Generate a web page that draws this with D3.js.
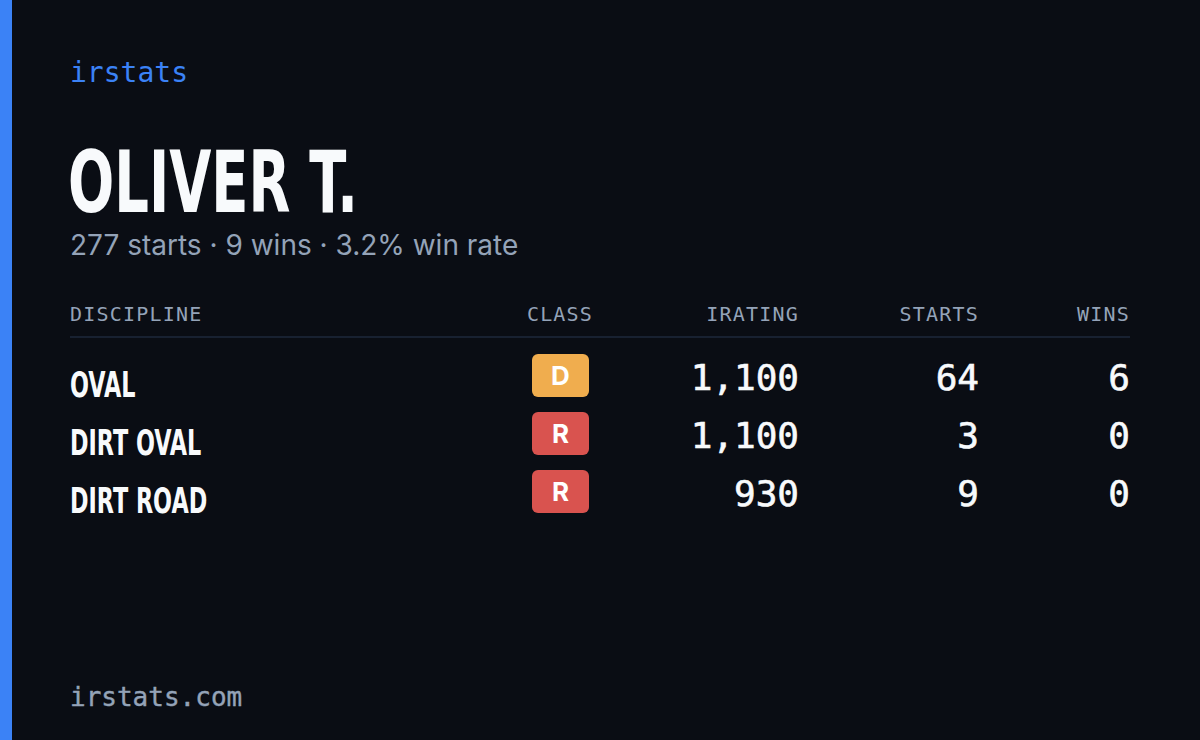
<!DOCTYPE html>
<html>
<head>
<meta charset="UTF-8">
<script src="https://d3js.org/d3.v7.min.js"></script>
<style>
  body { margin: 0; background: #0a0d14; }
</style>
</head>
<body>
<svg id="card" width="1200" height="740"></svg>
<script>
const disciplines = ["OVAL", "DIRT OVAL", "DIRT ROAD"];
const classes = ["D", "R", "R"];
const iratings = [1100, 1100, 930];
const starts = [64, 3, 9];
const wins = [6, 0, 0];
const totals = { starts: 277, wins: 9, winRate: 3.2 };
const headers = ["DISCIPLINE", "CLASS", "IRATING", "STARTS", "WINS"];
const classColors = { D: "#f0ad4e", R: "#d9534f" };

const svg = d3.select("#card");
const mono = "'DejaVu Sans Mono', monospace";
const cond = "'Liberation Sans Narrow', 'DejaVu Sans Condensed', sans-serif";
const sans = "Inter, 'Noto Sans', sans-serif";

svg.append("rect").attr("width", 1200).attr("height", 740).attr("fill", "#0a0d14");
svg.append("rect").attr("width", 12).attr("height", 740).attr("fill", "#3b82f6");

svg.append("text").attr("x", 70).attr("y", 82).text("irstats")
  .attr("font-family", mono).attr("font-size", 28).attr("fill", "#3b82f6");

svg.append("text").attr("x", 68).attr("y", 212).text("OLIVER T.")
  .attr("font-family", cond).attr("font-weight", "bold").attr("font-size", 86)
  .attr("fill", "#f8fafc").attr("textLength", 290).attr("lengthAdjust", "spacingAndGlyphs");

svg.append("text").attr("x", 70).attr("y", 255)
  .text(`${totals.starts} starts · ${totals.wins} wins · ${totals.winRate}% win rate`)
  .attr("font-family", sans).attr("font-size", 28).attr("fill", "#94a3b8");

const cols = [
  { x: 70, anchor: "start" },
  { x: 560, anchor: "middle" },
  { x: 799, anchor: "end" },
  { x: 979, anchor: "end" },
  { x: 1130, anchor: "end" }
];

svg.selectAll(".hdr").data(headers).join("text")
  .attr("class", "hdr")
  .attr("x", (d, i) => cols[i].x).attr("y", 321)
  .attr("text-anchor", (d, i) => cols[i].anchor)
  .attr("font-family", mono).attr("font-size", 20).attr("letter-spacing", 1.2)
  .attr("fill", "#94a3b8").text(d => d);

svg.append("line").attr("x1", 70).attr("x2", 1130).attr("y1", 337).attr("y2", 337)
  .attr("stroke", "#1e293b").attr("stroke-width", 1.5);

const y = d3.scaleBand().domain(d3.range(disciplines.length)).range([347, 521]);
const fmt = d3.format(",");

const rows = svg.selectAll(".row").data(disciplines).join("g")
  .attr("class", "row").attr("transform", (d, i) => `translate(0,${y(i)})`);

rows.append("text").attr("x", cols[0].x / 0.69).attr("y", 50).text(d => d)
  .attr("font-family", cond).attr("font-weight", "bold").attr("font-size", 36)
  .attr("fill", "#f8fafc")
  .attr("transform", "scale(0.69,1)");

rows.append("rect").attr("x", 532).attr("y", 7).attr("width", 57).attr("height", 43)
  .attr("rx", 6).attr("fill", (d, i) => classColors[classes[i]]);
rows.append("text").attr("x", 560.5).attr("y", 38).attr("text-anchor", "middle")
  .attr("font-family", sans).attr("font-weight", "bold").attr("font-size", 26)
  .attr("fill", "#fff").text((d, i) => classes[i]);

const numCols = [iratings.map(fmt), starts, wins];
numCols.forEach((vals, c) => {
  rows.append("text").attr("x", cols[c + 2].x).attr("y", 43)
    .attr("text-anchor", "end").attr("font-family", mono).attr("font-size", 36)
    .attr("fill", "#f8fafc").attr("stroke", "#f8fafc").attr("stroke-width", 0.6)
    .text((d, i) => vals[i]);
});

svg.append("text").attr("x", 70).attr("y", 706).text("irstats.com")
  .attr("font-family", mono).attr("font-size", 26).attr("fill", "#94a3b8")
  .attr("stroke", "#94a3b8").attr("stroke-width", 0.4);
</script>
</body>
</html>
